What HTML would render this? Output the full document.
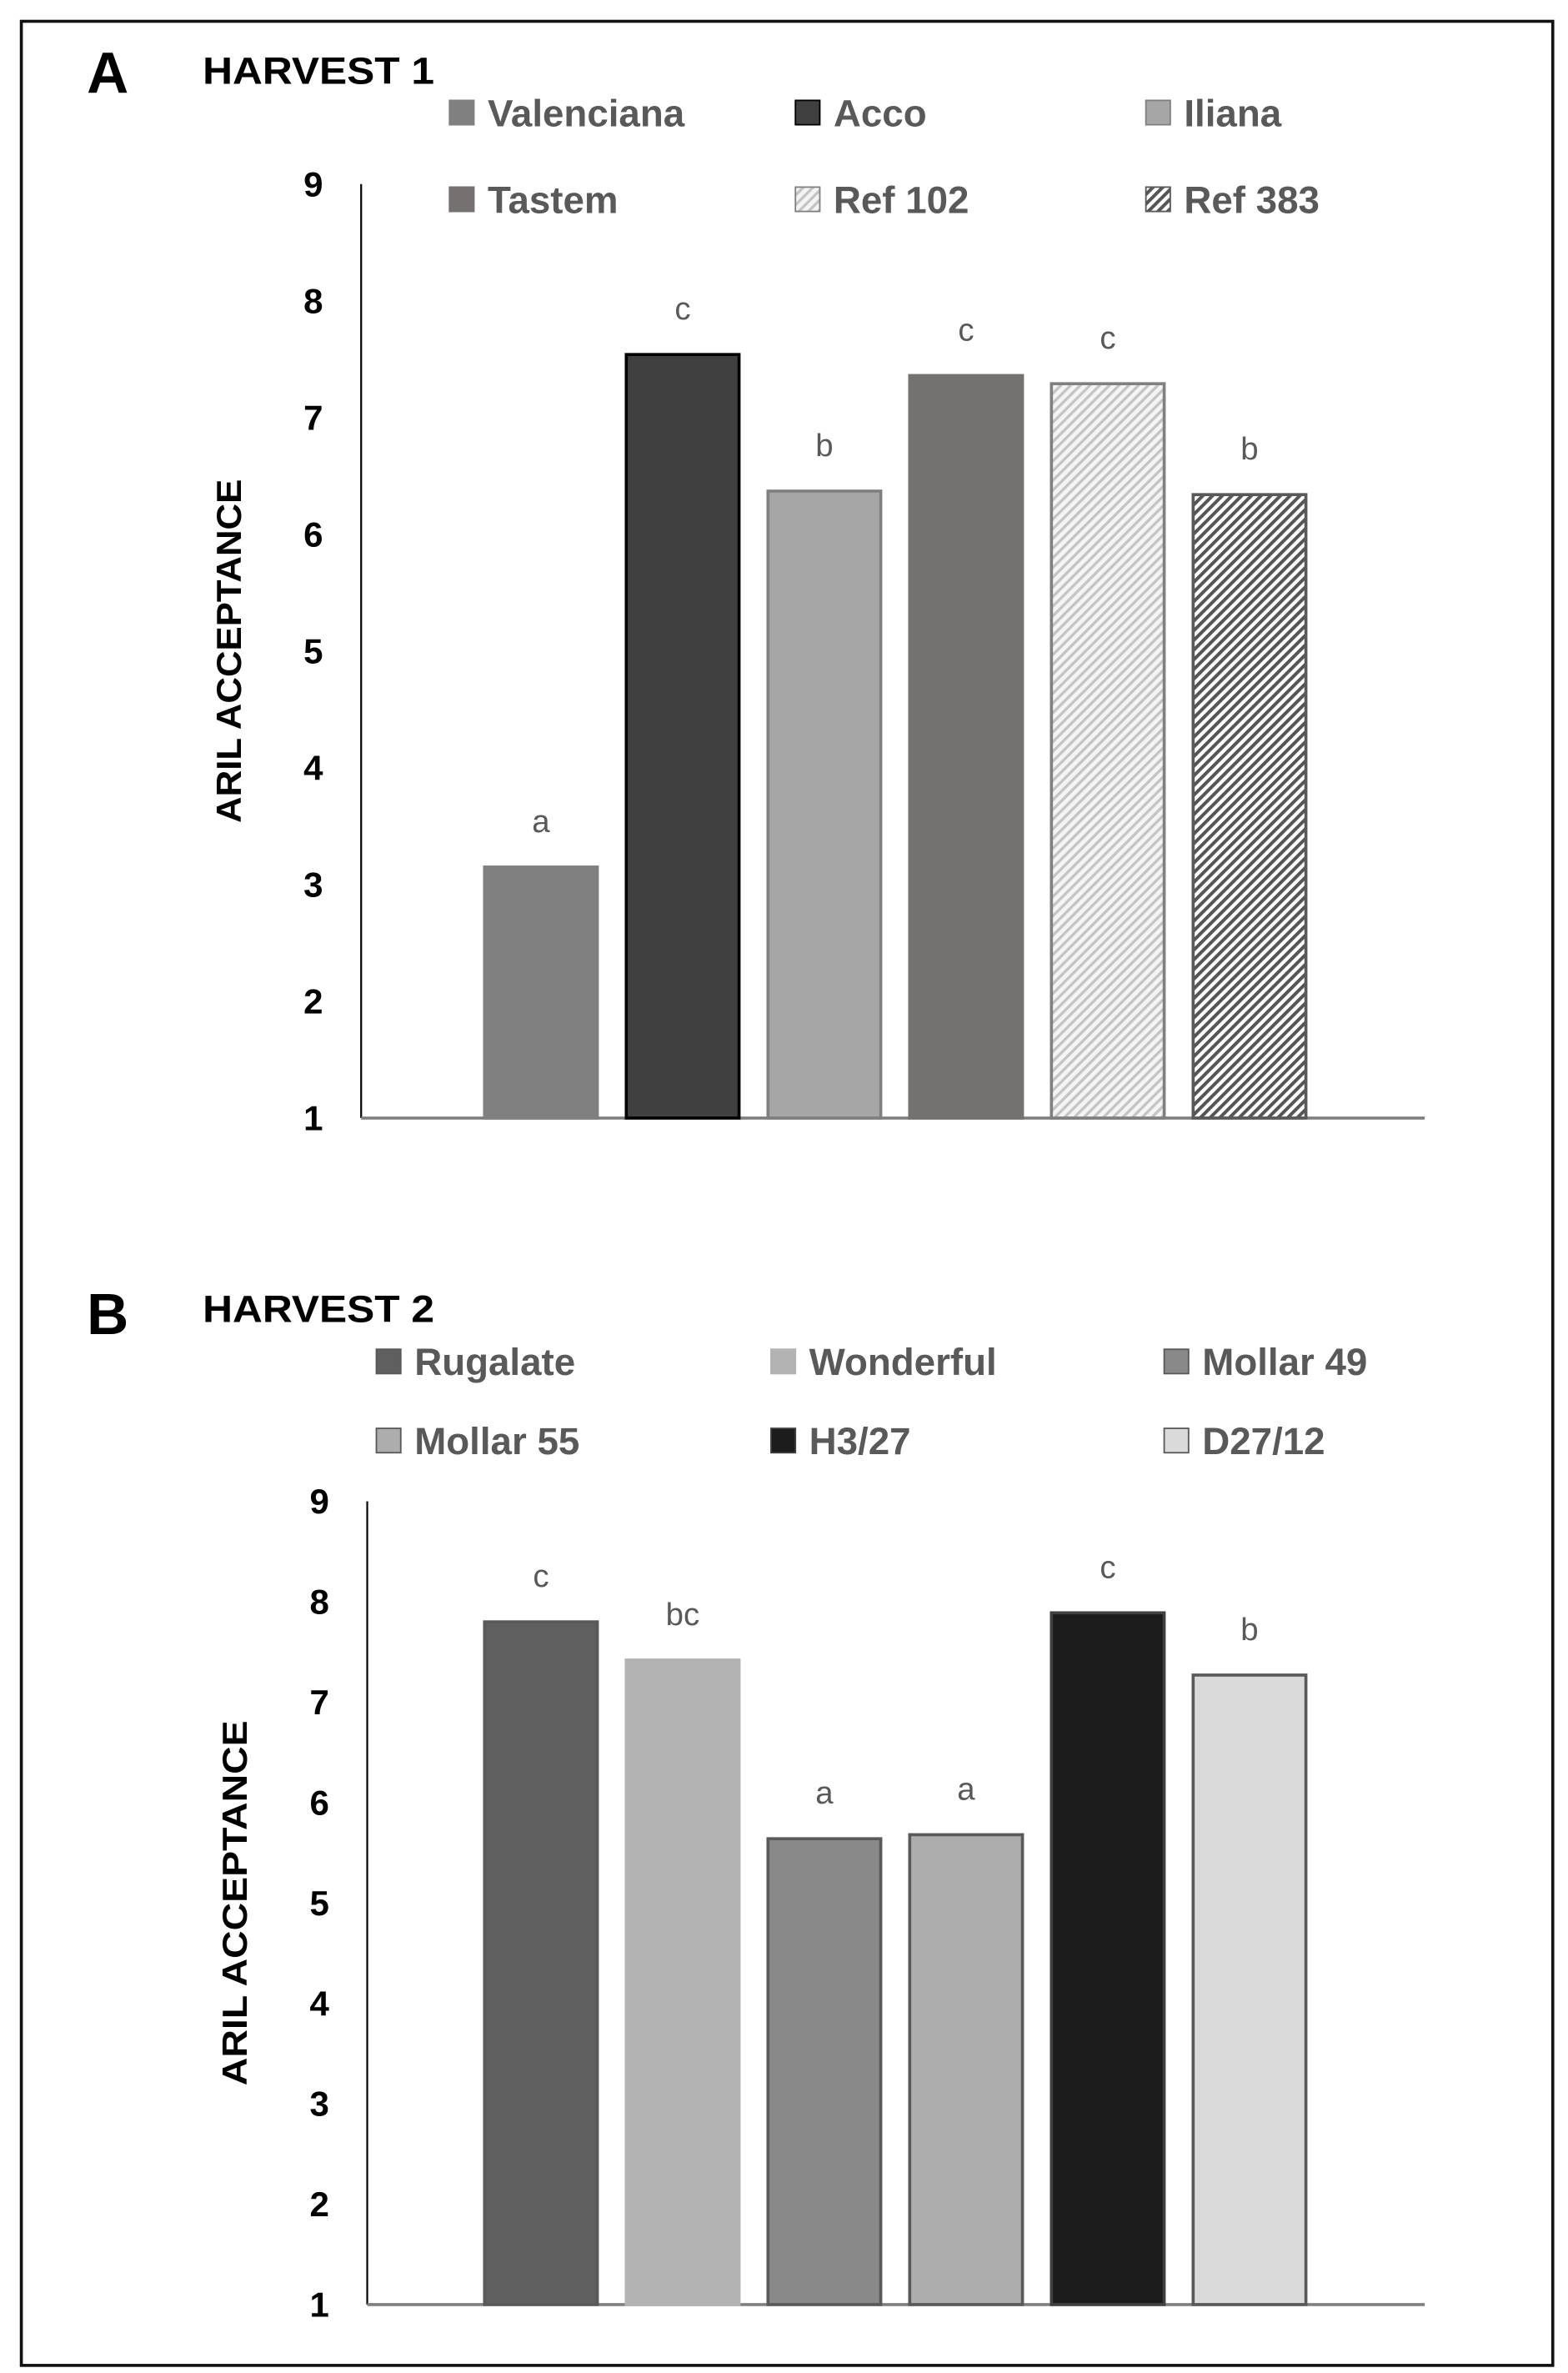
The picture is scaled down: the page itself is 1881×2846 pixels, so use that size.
<!DOCTYPE html>
<html><head><meta charset="utf-8">
<style>
html,body{margin:0;padding:0;background:#fff;}
svg{display:block;font-family:"Liberation Sans",sans-serif;}
</style></head>
<body>
<svg id="fig" width="1881" height="2846" viewBox="0 0 1029 1560" preserveAspectRatio="none" xmlns="http://www.w3.org/2000/svg">
<defs>
<pattern id="hatchLight" patternUnits="userSpaceOnUse" width="4.5" height="4.5" patternTransform="rotate(-45)">
<rect width="4.5" height="4.5" fill="#f4f4f4"/><rect width="4.5" height="1.8" fill="#c4c4c4"/></pattern>
<pattern id="hatchDark" patternUnits="userSpaceOnUse" width="4.5" height="4.5" patternTransform="rotate(-45)">
<rect width="4.5" height="4.5" fill="#ffffff"/><rect width="4.5" height="2.2" fill="#555555"/></pattern>
</defs>
<rect x="14" y="14" width="1005" height="1541" fill="none" stroke="#111" stroke-width="2"/>
<g id="gA"></g>
<g id="gB"></g>
</svg>
<script>
const catsA = ["Valenciana","Acco","Iliana","Tastem","Ref 102","Ref 383"];
const valsA = [3.15,7.54,6.37,7.36,7.29,6.34];
const sigA = ["a","c","b","c","c","b"];
const catsB = ["Rugalate","Wonderful","Mollar 49","Mollar 55","H3/27","D27/12"];
const valsB = [7.80,7.42,5.64,5.68,7.89,7.27];
const sigB = ["c","bc","a","a","c","b"];
const ticks = [1,2,3,4,5,6,7,8,9];

const NS="http://www.w3.org/2000/svg";
function mk(parent,tag,attrs,text){const e=document.createElementNS(NS,tag);for(const k in attrs)e.setAttribute(k,attrs[k]);if(text!==undefined)e.textContent=text;parent.appendChild(e);return e;}

function drawPanel(g,cfg,cats,vals,sig){
  const y=v=>cfg.y1-(v-1)*(cfg.y1-cfg.y9)/8;
  let t=mk(g,"text",{x:57,y:cfg.letterY,"font-size":38,"font-weight":"bold",fill:"#000"},cfg.letter);
  
  
  t=mk(g,"text",{x:133,y:cfg.titleY,"font-size":25,"font-weight":"bold",fill:"#000",textLength:152,lengthAdjust:"spacingAndGlyphs"},cfg.title);
  
  
  cats.forEach((c,i)=>{
    const col=i%3,row=Math.floor(i/3);
    const sx=cfg.legX[col],ly=cfg.legY[row];
    const sw=mk(g,"rect",{x:sx,y:ly-8,width:16,height:16,fill:cfg.fills[i],stroke:cfg.strokes[i],"stroke-width":1});
    
    
    const lt=mk(g,"text",{x:sx+25,y:ly+9,"font-size":25,"font-weight":"bold",fill:"#595959"},c);
    
    
  });
  let a=mk(g,"line",{x1:cfg.ax,y1:cfg.y9,x2:cfg.ax,y2:cfg.y1,stroke:"#000","stroke-width":1.2});
  
  
  a=mk(g,"line",{x1:cfg.ax,y1:cfg.y1,x2:935,y2:cfg.y1,stroke:"#7f7f7f","stroke-width":2});
  
  
  ticks.forEach(v=>{
    const tl=mk(g,"text",{x:cfg.ax-25,y:y(v)+8,"font-size":23,"font-weight":"bold","text-anchor":"end",fill:"#000"},String(v));
    
    
  });
  const cx=cfg.titleX, cy=(cfg.y1+cfg.y9)/2;
  const yt=mk(g,"text",{x:cx,y:cy,"font-size":23,"font-weight":"bold","text-anchor":"middle",fill:"#000",transform:`rotate(-90 ${cx} ${cy})`,textLength:cfg.ytLen,lengthAdjust:"spacingAndGlyphs"},"ARIL ACCEPTANCE");
  
  
  vals.forEach((v,i)=>{
    const x=318+i*93, w=74;
    const b=mk(g,"rect",{x:x,y:y(v),width:w,height:cfg.y1-y(v),fill:cfg.fills[i],stroke:cfg.strokes[i],"stroke-width":2});
    
    
    const s=mk(g,"text",{x:x+w/2,y:y(v)-23,"font-size":21,"text-anchor":"middle",fill:"#595959"},sig[i]);
    
    
  });
}
drawPanel(document.getElementById('gA'),{
  letter:"A",letterY:61,title:"HARVEST 1",titleY:55,ax:237,y9:121,y1:735,titleX:158,ytLen:226,
  legX:[295,522,752],legY:[74,131],
  fills:["#808080","#404040","#a6a6a6","#767171","url(#hatchLight)","url(#hatchDark)"],
  strokes:["#808080","#000000","#7f7f7f","#767171","#808080","#595959"]
},catsA,valsA,sigA);
drawPanel(document.getElementById('gB'),{
  letter:"B",letterY:877,title:"HARVEST 2",titleY:869,ax:241,y9:987,y1:1515,titleX:162,ytLen:240,
  legX:[247,506,764],legY:[895,947],
  fills:["#5f5f5f","#b3b3b3","#898989","#adadad","#1c1c1c","#dadada"],
  strokes:["#595959","#b3b3b3","#595959","#595959","#404040","#595959"]
},catsB,valsB,sigB);
</script>
</body></html>
